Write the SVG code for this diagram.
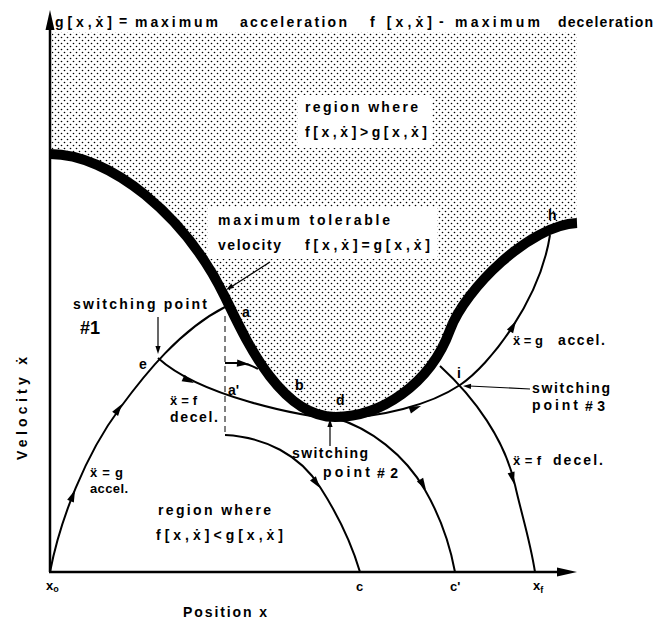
<svg xmlns="http://www.w3.org/2000/svg" xmlns:xlink="http://www.w3.org/1999/xlink" width="656" height="622" viewBox="0 0 656 622">
<style>
text{font-family:"Liberation Sans","DejaVu Sans",sans-serif;font-weight:bold;font-size:14px;fill:#000}
.sm{font-size:13px}
.big{font-size:18px}
.traj{fill:none;stroke:#000;stroke-width:2}
.thin{fill:none;stroke:#000;stroke-width:1.2}
</style>
<defs>
<pattern id="dots" width="6" height="6" patternUnits="userSpaceOnUse"><circle cx="1.5" cy="1.5" r="0.8"/><circle cx="4.5" cy="4.5" r="0.8"/></pattern>
<path id="ah" d="M0,0 L-12,-3.6 L-12,3.6 Z"/>
<path id="ahs" d="M0,0 L-8,-2.6 L-8,2.6 Z"/>
</defs>
<rect width="656" height="622" fill="#fff"/>

<g id="region-above">
<path d="M50,154 C110,154 185,215 225,297 C245,338 280,417 335,417 C380,417 430,385 450,330 C465,289 530,225 577,223 L577,32 L52,32 Z" fill="url(#dots)"/>
<rect x="298" y="95" width="134" height="53" fill="#fff"/>
<rect x="208" y="207" width="229" height="52" fill="#fff"/>
</g>

<g id="axes">
<path d="M50,572 V26" stroke="#000" stroke-width="2.5" fill="none"/>
<polygon points="50,10 45.5,30 54.5,30"/>
<path d="M49,572 H560" stroke="#000" stroke-width="2.5" fill="none"/>
<polygon points="577,572 557,567.5 557,576.5"/>
</g>

<g id="boundary">
<path d="M50,154 C110,154 185,215 225,297 C245,338 280,417 335,417 C380,417 430,385 450,330 C465,289 530,225 577,223" fill="none" stroke="#000" stroke-width="10"/>
</g>

<g id="connectors">
<path class="traj" d="M50,572 C60,520 85,455 120,408 C145,374 180,330 225,307"/>
<path class="traj" d="M158,358 C180,378 215,392 250,402 C285,412 310,417 335,418"/>
<path class="traj" d="M335,418 C380,418 430,405 460,385 C490,365 540,300 550,235"/>
<path class="traj" d="M440,366 C475,398 505,440 515,485 C522,516 530,540 535,572"/>
<path class="traj" d="M335,418 C370,428 405,455 425,490 C440,516 450,545 455,572"/>
<path class="traj" d="M225,435 C265,437 300,455 320,487 C340,518 352,545 360,572"/>
<path class="traj" d="M225,363 L240,363 Q250,364 258,369"/>
<path d="M225,316 V435" fill="none" stroke="#000" stroke-width="1" stroke-dasharray="6,4"/>
<path class="thin" d="M270,262 L231,287"/>
<path class="thin" d="M158,317 V347"/>
<path class="thin" d="M330,446 V426"/>
<path class="thin" d="M530,389 L469,386"/>
<use xlink:href="#ah" transform="translate(75,490) rotate(-68)"/>
<use xlink:href="#ah" transform="translate(122,404) rotate(-55)"/>
<use xlink:href="#ah" transform="translate(194,383) rotate(25)"/>
<use xlink:href="#ah" transform="translate(249,364) rotate(4)"/>
<use xlink:href="#ah" transform="translate(421,406) rotate(-20)"/>
<use xlink:href="#ah" transform="translate(516,321) rotate(-60)"/>
<use xlink:href="#ah" transform="translate(426,490) rotate(60)"/>
<use xlink:href="#ah" transform="translate(320,488) rotate(54)"/>
<use xlink:href="#ah" transform="translate(514,484) rotate(76)"/>
<use xlink:href="#ahs" transform="translate(226,290) rotate(147)"/>
<use xlink:href="#ahs" transform="translate(158,354) rotate(90)"/>
<use xlink:href="#ahs" transform="translate(330,419) rotate(-90)"/>
<use xlink:href="#ahs" transform="translate(463,386) rotate(182)"/>
</g>

<g id="header">
<text x="55" y="27" textLength="57" lengthAdjust="spacing">g[x,ẋ]</text>
<text x="119" y="26" font-size="10">=</text>
<text x="135" y="27" textLength="83" lengthAdjust="spacing">maximum</text>
<text x="240" y="27" textLength="107" lengthAdjust="spacing">acceleration</text>
<text x="370" y="27" textLength="62" lengthAdjust="spacing">f [x,ẋ]</text>
<text x="439" y="26">-</text>
<text x="455" y="27" textLength="85" lengthAdjust="spacing">maximum</text>
<text x="558" y="27" textLength="95" lengthAdjust="spacing">deceleration</text>
</g>

<g id="label-region-above">
<text x="305" y="112" textLength="113" lengthAdjust="spacing">region where</text>
<text x="305" y="137" textLength="122" lengthAdjust="spacing">f[x,ẋ]&gt;g[x,ẋ]</text>
</g>

<g id="label-max-velocity">
<text x="218" y="225" textLength="172" lengthAdjust="spacing">maximum tolerable</text>
<text x="218" y="250" textLength="63" lengthAdjust="spacing">velocity</text>
<text x="305" y="250" textLength="125" lengthAdjust="spacing">f[x,ẋ]=g[x,ẋ]</text>
</g>

<g id="switching-1">
<text x="73" y="309" textLength="134" lengthAdjust="spacing">switching point</text>
<text x="80" y="334" class="big">#1</text>
</g>

<g id="point-labels">
<text x="139" y="369">e</text>
<text x="242" y="317">a</text>
<text x="228" y="395">a'</text>
<text x="295" y="390">b</text>
<text x="336" y="405">d</text>
<text x="548" y="220">h</text>
<text x="457" y="378">i</text>
</g>

<g id="accel-1">
<text x="90" y="477" class="sm" textLength="33" lengthAdjust="spacing">ẍ = g</text>
<text x="90" y="493" class="sm" textLength="38" lengthAdjust="spacing">accel.</text>
</g>

<g id="decel-1">
<text x="170" y="405" class="sm" textLength="27" lengthAdjust="spacing">ẍ = f</text>
<text x="170" y="422" textLength="48" lengthAdjust="spacing">decel.</text>
</g>

<g id="label-region-below">
<text x="158" y="515" textLength="113" lengthAdjust="spacing">region where</text>
<text x="156" y="540" textLength="127" lengthAdjust="spacing">f[x,ẋ]&lt;g[x,ẋ]</text>
</g>

<g id="switching-2">
<text x="292" y="458" textLength="76" lengthAdjust="spacing">switching</text>
<text x="323" y="477" textLength="47" lengthAdjust="spacing">point</text>
<text x="377" y="478" font-size="17" textLength="21" lengthAdjust="spacing">#2</text>
</g>

<g id="accel-2">
<text x="513" y="345" class="sm" textLength="30" lengthAdjust="spacing">ẍ = g</text>
<text x="558" y="345" textLength="47" lengthAdjust="spacing">accel.</text>
</g>

<g id="switching-3">
<text x="532" y="393" textLength="78" lengthAdjust="spacing">switching</text>
<text x="532" y="410" textLength="46" lengthAdjust="spacing">point</text>
<text x="585" y="411" font-size="17" textLength="20" lengthAdjust="spacing">#3</text>
</g>

<g id="decel-2">
<text x="513" y="465" class="sm" textLength="28" lengthAdjust="spacing">ẍ = f</text>
<text x="553" y="465" textLength="50" lengthAdjust="spacing">decel.</text>
</g>

<g id="axis-labels">
<text x="46" y="590" class="sm">x<tspan font-size="9" dy="2">o</tspan></text>
<text x="356" y="591" class="sm">c</text>
<text x="450" y="591" class="sm">c'</text>
<text x="533" y="590" class="sm">x<tspan font-size="9" dy="3">f</tspan></text>
<text x="183" y="617" textLength="84" lengthAdjust="spacing">Position  x</text>
<text transform="translate(27,460) rotate(-90)" textLength="103" lengthAdjust="spacing">Velocity  ẋ</text>
</g>
</svg>
